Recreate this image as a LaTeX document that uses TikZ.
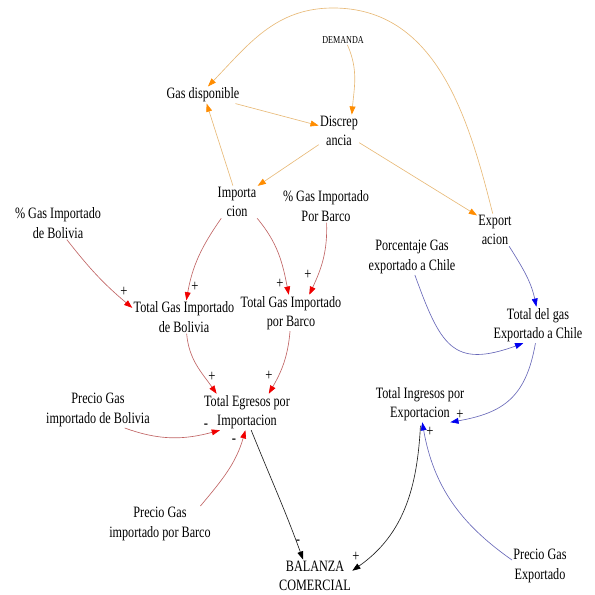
\documentclass[tikz,border=0pt]{standalone}
\usepackage{fontspec}
\setmainfont{Liberation Serif}[FakeStretch=0.77]
\usetikzlibrary{arrows.meta}
\definecolor{lineorange}{RGB}{232,186,120}
\definecolor{headorange}{RGB}{255,140,0}
\definecolor{linered}{RGB}{192,100,100}
\definecolor{headred}{RGB}{240,0,0}
\definecolor{lineblue}{RGB}{104,104,184}
\definecolor{headblue}{RGB}{0,0,240}
\definecolor{lineblack}{RGB}{30,30,30}
\tikzset{
  var/.style={
    align=center,
    inner sep=1pt,
    font=\fontsize{13.5}{16.5}\selectfont
  },
  var-small/.style={inner sep=1pt, font=\fontsize{9}{11}\selectfont},
  pol/.style={inner sep=0pt, font=\fontsize{14}{14}\selectfont},
  link/.style={line width=0.55pt},
  link-orange/.style={link, draw=lineorange,
    -{Triangle[length=7pt,width=5pt,color=headorange]}},
  link-red/.style={link, draw=linered,
    -{Triangle[length=7pt,width=5pt,color=headred]}},
  link-blue/.style={link, draw=lineblue,
    -{Triangle[length=7pt,width=5pt,color=headblue]}},
  link-black/.style={link, draw=lineblack,
    -{Triangle[length=7pt,width=5pt,color=black]}}
}

\begin{document}
\begin{tikzpicture}[x=0.03cm,y=0.03cm]
  \useasboundingbox (0,0) rectangle (595,594);
  % variables
  \node[var-small] (demanda) at (343,554) {DEMANDA};
  \node[var] (gasdisp) at (203,499) {Gas disponible};
  \node[var] (discrep) at (339,463) {Discrep\\ancia};
  \node[var] (imp) at (237,392) {Importa\\cion};
  \node[var] (export) at (495,364) {Export\\acion};
  \node[var] (pgibol) at (58,371) {\% Gas Importado\\de Bolivia};
  \node[var] (pgibar) at (326,388) {\% Gas Importado\\Por Barco};
  \node[var] (porc) at (412,337) {Porcentaje Gas\\exportado a Chile};
  \node[var] (tgibol) at (184,277) {Total Gas Importado\\de Bolivia};
  \node[var] (tgibar) at (291,281) {Total Gas Importado\\por Barco};
  \node[var] (tdelgas) at (538,269) {Total del gas\\Exportado a Chile};
  \node[var] (egresos) at (247,182) {Total Egresos por\\Importacion};
  \node[var] (pbol) at (98,184) {Precio Gas\\importado de Bolivia};
  \node[var] (pbar) at (160,70) {Precio Gas\\importado por Barco};
  \node[var] (ingresos) at (420,190) {Total Ingresos por\\Exportacion};
  \node[var] (pexp) at (540,28) {Precio Gas\\Exportado};
  \node[var] (balanza) at (315,18) {BALANZA\\COMERCIAL};
  \coordinate (arctop) at (333,586);

  % orange loop
  \draw[link-orange] (gasdisp) -- (discrep);
  \draw[link-orange] (demanda.-48) to[out=-66,in=85] (discrep.52);
  \draw[link-orange] (imp.104) -- (gasdisp.-67);
  \draw[link-orange] (discrep.-146) -- (imp.38);
  \draw[link-orange] (discrep.-30) -- (export.141);
  \draw[link-orange] (export.98) to[out=104,in=0] (arctop)
    to[out=180,in=46] (gasdisp.60);

  % imports
  \draw[link-red] (imp.226) to[out=-125,in=80] (tgibol.82);
  \draw[link-red] (imp.-39) to[out=-50,in=101] (tgibar.97);
  \draw[link-red] (pgibol.-62) to[out=-52,in=140] (tgibol.170);
  \draw[link-red] (pgibar.-88) to[out=-88,in=65] (tgibar.45);
  \draw[link-red] (tgibol.-81) to[out=-85,in=125] (egresos.149);
  \draw[link-red] (tgibar.-93) to[out=-95,in=60] (egresos.40);
  \draw[link-red] (pbol.-34) to[out=-20,in=195] (egresos.214);
  \draw[link-red] (pbar.24) to[out=50,in=-106] (egresos.-95);

  % exports
  \draw[link-blue] (export.-49) to[out=-58,in=102] (tdelgas.95);
  \draw[link-blue] (porc.-81) to[out=-70,in=200,looseness=1.5] (tdelgas.231);
  \draw[link-blue] (tdelgas.-98) to[out=-100,in=10,looseness=1.2] (ingresos.-31);
  \draw[link-blue] (pexp.168) to[out=145,in=-80] (ingresos.-83);

  % balance
  \draw[link-black, shorten <=3pt] (ingresos.-88) to[out=-93,in=35] (balanza.8);
  \draw[link-black] (egresos.-77) to[out=-68,in=110] (balanza.126);

  % polarities
  \node[pol] (s1) at (124,302) {+};
  \node[pol] (s2) at (195,307) {+};
  \node[pol] (s3) at (280,310) {+};
  \node[pol] (s4) at (308,319) {+};
  \node[pol] (s5) at (212,217) {+};
  \node[pol] (s6) at (269,218) {+};
  \node[pol] (s7) at (206,168) {-};
  \node[pol] (s8) at (234,153) {-};
  \node[pol] (s9) at (460,179) {+};
  \node[pol] (s10) at (430,162) {+};
  \node[pol] (s11) at (356,37) {+};
  \node[pol] (s12) at (298,52) {-};
\end{tikzpicture}
\end{document}
